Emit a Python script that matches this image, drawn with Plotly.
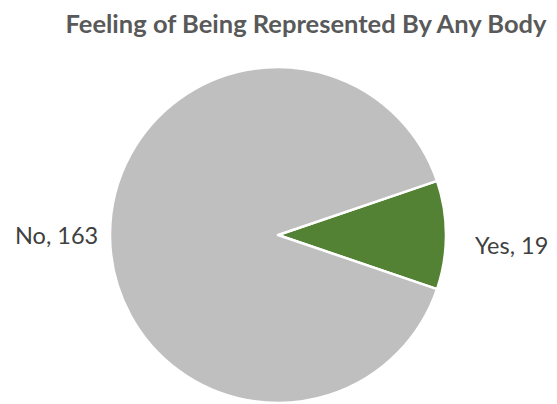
import plotly.graph_objects as go

labels = ["Yes", "No"]
values = [19, 163]
colors = ["#548235", "#BFBFBF"]
title_text = "Feeling of Being Represented By Any Body"

W, H = 557, 404
cx, cy, r = 270, 227, 168

fig = go.Figure(go.Pie(
    labels=labels,
    values=values,
    marker=dict(colors=colors, line=dict(color="white", width=2.5)),
    sort=False,
    direction="clockwise",
    rotation=90 - 360 * values[0] / sum(values) / 2,
    textinfo="none",
    showlegend=False,
    hoverinfo="label+value",
    domain=dict(x=[(cx - r) / W, (cx + r) / W], y=[(H - cy - r) / H, (H - cy + r) / H]),
    automargin=False,
))

# data label positions (pixels) for each slice
label_pos = {"Yes": (503, 237), "No": (48, 227)}
for lab, val in zip(labels, values):
    px, py = label_pos[lab]
    fig.add_annotation(
        text=f"{lab}, {val}", x=px / W, y=1 - py / H, xref="paper", yref="paper",
        xanchor="center", yanchor="middle", showarrow=False,
        font=dict(family="Lato", size=23.5, color="#404040"),
    )

fig.update_layout(
    width=W, height=H,
    margin=dict(l=0, r=0, t=0, b=0),
    paper_bgcolor="white",
    title=dict(text="<b>" + title_text + "</b>", x=298 / W, xanchor="center",
               y=1 - 16 / H, yanchor="middle",
               font=dict(family="Lato", size=25.5, color="#595959")),
)

fig.write_html("out.html")
